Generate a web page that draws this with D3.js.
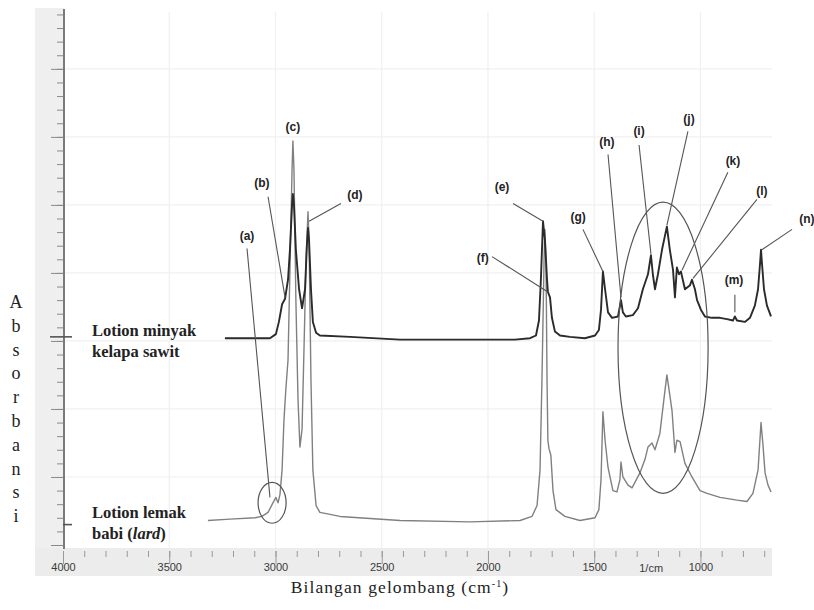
<!DOCTYPE html>
<html>
<head>
<meta charset="utf-8">
<script src="https://cdn.jsdelivr.net/npm/d3@7"></script>
<style>
  body { margin: 0; background: #fff; }
  svg { display: block; }
</style>
</head>
<body>
<svg id="chart" width="814" height="610"></svg>
<script>
// FTIR spectrum: lotion made with palm oil (upper trace)
const palmWavenumber = [3238, 3120, 3026, 2998, 2984, 2969, 2955, 2941, 2932, 2922, 2918, 2913, 2904, 2889, 2875, 2861, 2852, 2847, 2842, 2833, 2824, 2809, 2791, 2649, 2414, 2085, 1873, 1802, 1774, 1760, 1751, 1741, 1732, 1722, 1718, 1708, 1699, 1685, 1661, 1614, 1544, 1496, 1478, 1468, 1459, 1449, 1435, 1416, 1388, 1374, 1365, 1351, 1318, 1294, 1271, 1247, 1233, 1224, 1214, 1200, 1181, 1158, 1144, 1129, 1120, 1111, 1101, 1092, 1073, 1049, 1040, 1026, 1016, 998, 979, 946, 908, 875, 847, 838, 828, 791, 767, 744, 729, 720, 715, 711, 701, 687, 668];
const palmAbsorbance = [1.52, 1.52, 1.52, 1.55, 1.64, 1.77, 1.81, 1.95, 2.17, 2.50, 2.58, 2.50, 2.17, 1.88, 1.74, 1.88, 2.21, 2.33, 2.24, 1.88, 1.64, 1.56, 1.54, 1.53, 1.51, 1.51, 1.51, 1.52, 1.54, 1.65, 1.95, 2.38, 2.24, 1.95, 1.86, 1.82, 1.67, 1.57, 1.54, 1.53, 1.52, 1.54, 1.58, 1.73, 2.01, 1.88, 1.71, 1.67, 1.68, 1.80, 1.71, 1.68, 1.69, 1.74, 1.88, 1.99, 2.13, 1.99, 1.88, 1.99, 2.17, 2.34, 2.17, 2.02, 1.82, 2.04, 1.99, 2.01, 1.88, 1.91, 1.95, 1.88, 1.80, 1.73, 1.68, 1.67, 1.67, 1.66, 1.65, 1.68, 1.65, 1.64, 1.67, 1.76, 1.88, 2.06, 2.17, 2.08, 1.88, 1.76, 1.68];

// FTIR spectrum: lotion made with lard (lower trace)
const lardWavenumber = [3318, 3214, 3096, 3064, 3035, 3012, 2998, 2988, 2979, 2969, 2960, 2951, 2941, 2932, 2922, 2918, 2913, 2904, 2894, 2885, 2875, 2866, 2856, 2847, 2842, 2833, 2824, 2809, 2791, 2696, 2414, 2085, 1849, 1793, 1769, 1755, 1746, 1736, 1732, 1727, 1722, 1718, 1713, 1704, 1694, 1680, 1638, 1567, 1496, 1478, 1468, 1459, 1449, 1435, 1412, 1393, 1379, 1374, 1365, 1341, 1322, 1285, 1261, 1247, 1228, 1214, 1191, 1172, 1158, 1144, 1134, 1120, 1111, 1096, 1073, 1040, 1002, 969, 908, 828, 781, 753, 729, 715, 706, 696, 682, 668];
const lardAbsorbance = [0.18, 0.19, 0.20, 0.21, 0.24, 0.31, 0.35, 0.31, 0.37, 0.55, 0.92, 1.15, 1.36, 2.02, 2.76, 2.97, 2.76, 1.80, 1.07, 0.72, 0.85, 1.43, 2.10, 2.45, 2.24, 1.21, 0.55, 0.29, 0.24, 0.21, 0.18, 0.17, 0.18, 0.21, 0.29, 0.55, 1.21, 2.10, 2.32, 2.10, 1.21, 0.77, 0.71, 0.66, 0.40, 0.26, 0.21, 0.18, 0.20, 0.26, 0.48, 0.98, 0.77, 0.57, 0.40, 0.39, 0.48, 0.61, 0.50, 0.44, 0.42, 0.53, 0.63, 0.72, 0.75, 0.70, 0.82, 1.07, 1.25, 1.10, 0.99, 0.68, 0.77, 0.76, 0.60, 0.50, 0.40, 0.38, 0.35, 0.33, 0.32, 0.38, 0.55, 0.90, 0.74, 0.53, 0.44, 0.39];

// Axis ticks
const xMajorTicks = [4000, 3500, 3000, 2500, 2000, 1500, 1000];
const xMinorTicks = d3.range(4000, 699, -100);
const yMajorTicks = [0, 0.5, 1, 1.5, 2, 2.5, 3, 3.5];
const yMinorTicks = d3.range(0, 3.95, 0.1);
const spectrumBaselines = [1.53, 0.15];

// Peak labels: letter, label anchor, leader start, leader end (wavenumber, absorbance)
const peakLetters = ["a", "b", "c", "d", "e", "f", "g", "h", "i", "j", "k", "l", "m", "n"];
const peakLabelAt = [[3134, 2.27], [3064, 2.66], [2918, 3.07], [2626, 2.57], [1934, 2.63], [2024, 2.11], [1576, 2.41], [1440, 2.96], [1289, 3.04], [1054, 3.13], [847, 2.82], [711, 2.60], [842, 1.95], [499, 2.40]];
const leaderFrom = [[3134, 2.18], [3035, 2.56], null, [2692, 2.51], [1882, 2.51], [1981, 2.12], [1553, 2.32], [1435, 2.87], [1289, 2.94], [1059, 3.04], [871, 2.74], [734, 2.54], [838, 1.84], [569, 2.32]];
const leaderTo = [[3026, 0.35], [2955, 1.82], null, [2842, 2.38], [1741, 2.38], [1718, 1.86], [1459, 2.01], [1374, 1.82], [1233, 2.14], [1158, 2.35], [1087, 2.02], [1035, 1.96], [838, 1.71], [711, 2.17]];

// Highlight ellipses: centre (wavenumber, absorbance) and half-widths
const ellipseCentres = [[3016, 0.31], [1176, 1.45]];
const ellipseRadiiWn = [66, 212];
const ellipseRadiiAbs = [0.15, 1.07];

const svg = d3.select("#chart");

const x = d3.scaleLinear().domain([4000, 668]).range([63, 771]);
const y = d3.scaleLinear().domain([0, 3.94]).range([545, 9]);

// Frame bands
svg.append("rect").attr("x", 35).attr("y", 8).attr("width", 29).attr("height", 540).attr("fill", "#efefef");
svg.append("rect").attr("x", 35).attr("y", 548).attr("width", 737).attr("height", 28).attr("fill", "#ececec");

// Faint grid
const grid = svg.append("g").attr("stroke", "#f0f0f0").attr("stroke-width", 1.2);
grid.selectAll("line.h").data(yMajorTicks.slice(1)).join("line")
  .attr("x1", 65).attr("x2", 772).attr("y1", d => y(d)).attr("y2", d => y(d));
grid.selectAll("line.v").data(xMajorTicks.slice(1)).join("line")
  .attr("x1", d => x(d)).attr("x2", d => x(d)).attr("y1", 12).attr("y2", 548);

// Y axis (unlabelled)
const yMinorAxis = d3.axisLeft(y).tickValues(yMinorTicks).tickSize(7).tickFormat("");
const yMajorAxis = d3.axisLeft(y).tickValues(yMajorTicks).tickSize(13).tickFormat("");
const gyMinor = svg.append("g").attr("transform", "translate(64,0)").call(yMinorAxis);
const gyMajor = svg.append("g").attr("transform", "translate(64,0)").call(yMajorAxis);
[gyMinor, gyMajor].forEach(g => {
  g.select(".domain").remove();
  g.selectAll("line").attr("stroke", "#8a8a8a").attr("stroke-width", 1);
});
svg.append("line").attr("x1", 64).attr("x2", 64).attr("y1", 9).attr("y2", 549)
  .attr("stroke", "#7a7a7a").attr("stroke-width", 2);
svg.selectAll("line.base").data(spectrumBaselines).join("line")
  .attr("x1", (d, i) => i === 0 ? 50 : 63).attr("x2", 72)
  .attr("y1", d => y(d)).attr("y2", d => y(d))
  .attr("stroke", "#555").attr("stroke-width", 1.6);

// X axis
const xMinorAxis = d3.axisBottom(x).tickValues(xMinorTicks).tickSize(6).tickFormat("");
const xMajorAxis = d3.axisBottom(x).tickValues(xMajorTicks).tickSize(13).tickPadding(2)
  .tickFormat(d3.format("d"));
const gxMinor = svg.append("g").attr("transform", "translate(0,551)").call(xMinorAxis);
const gxMajor = svg.append("g").attr("transform", "translate(0,551)").call(xMajorAxis);
[gxMinor, gxMajor].forEach(g => {
  g.select(".domain").remove();
  g.selectAll("line").attr("stroke", "#9a9a9a").attr("stroke-width", 1);
});
gxMajor.selectAll("text")
  .attr("font-family", "Liberation Sans, Arial, sans-serif").attr("font-size", 11)
  .attr("fill", "#3a3a3a").attr("y", 12);
svg.append("text").attr("x", x(1232)).attr("y", 572).attr("text-anchor", "middle")
  .attr("font-family", "Liberation Sans, Arial, sans-serif").attr("font-size", 11)
  .attr("fill", "#3a3a3a").text("1/cm");

// Spectra
const line = d3.line().x(d => x(d[0])).y(d => y(d[1]));
svg.append("path").datum(d3.zip(lardWavenumber, lardAbsorbance))
  .attr("d", line).attr("fill", "none").attr("stroke", "#808080").attr("stroke-width", 1.4)
  .attr("stroke-linejoin", "round");
svg.append("path").datum(d3.zip(palmWavenumber, palmAbsorbance))
  .attr("d", line).attr("fill", "none").attr("stroke", "#2b2b2b").attr("stroke-width", 1.9)
  .attr("stroke-linejoin", "round");

// Highlight ellipses
svg.selectAll("ellipse.hl").data(ellipseCentres).join("ellipse")
  .attr("cx", d => x(d[0])).attr("cy", d => y(d[1]))
  .attr("rx", (d, i) => Math.abs(x(d[0] + ellipseRadiiWn[i]) - x(d[0])))
  .attr("ry", (d, i) => Math.abs(y(d[1] + ellipseRadiiAbs[i]) - y(d[1])))
  .attr("fill", "none").attr("stroke", "#555").attr("stroke-width", 1.2);

// Peak leaders and labels
const leaders = peakLetters.map((k, i) => ({ from: leaderFrom[i], to: leaderTo[i] })).filter(d => d.from);
svg.selectAll("line.leader").data(leaders).join("line")
  .attr("x1", d => x(d.from[0])).attr("y1", d => y(d.from[1]))
  .attr("x2", d => x(d.to[0])).attr("y2", d => y(d.to[1]))
  .attr("stroke", "#555").attr("stroke-width", 1.1);
svg.selectAll("text.peak").data(peakLetters).join("text")
  .attr("x", (d, i) => x(peakLabelAt[i][0])).attr("y", (d, i) => y(peakLabelAt[i][1]) + 4)
  .attr("text-anchor", "middle")
  .attr("font-family", "Liberation Sans, Arial, sans-serif").attr("font-weight", "bold")
  .attr("font-size", 12).attr("fill", "#222")
  .text(d => `(${d})`);

// Series labels
const serif = "Liberation Serif, Times New Roman, serif";
const seriesLabel = svg.append("g").attr("font-family", serif).attr("font-weight", "bold")
  .attr("font-size", 16.5).attr("fill", "#222");
seriesLabel.append("text").attr("x", 92).attr("y", 336).text("Lotion minyak");
seriesLabel.append("text").attr("x", 92).attr("y", 357).text("kelapa sawit");
seriesLabel.append("text").attr("x", 92).attr("y", 518).text("Lotion lemak");
const babi = seriesLabel.append("text").attr("x", 92).attr("y", 539);
babi.append("tspan").text("babi (");
babi.append("tspan").attr("font-style", "italic").text("lard");
babi.append("tspan").text(")");

// Axis titles
const yTitle = "Absorbansi".split("");
svg.selectAll("text.ytitle").data(yTitle).join("text")
  .attr("x", 16).attr("y", (d, i) => 308 + i * 23.8).attr("text-anchor", "middle")
  .attr("font-family", serif).attr("font-size", 18)
  .attr("fill", "#222").text(d => d);

const xTitle = svg.append("text").attr("x", 400).attr("y", 593).attr("text-anchor", "middle")
  .attr("font-family", serif).attr("font-size", 17.5).attr("letter-spacing", 1.1).attr("fill", "#222");
xTitle.append("tspan").text("Bilangan gelombang (cm");
xTitle.append("tspan").attr("dy", -6).attr("font-size", 10).text("-1");
xTitle.append("tspan").attr("dy", 6).text(")");
</script>
</body>
</html>
